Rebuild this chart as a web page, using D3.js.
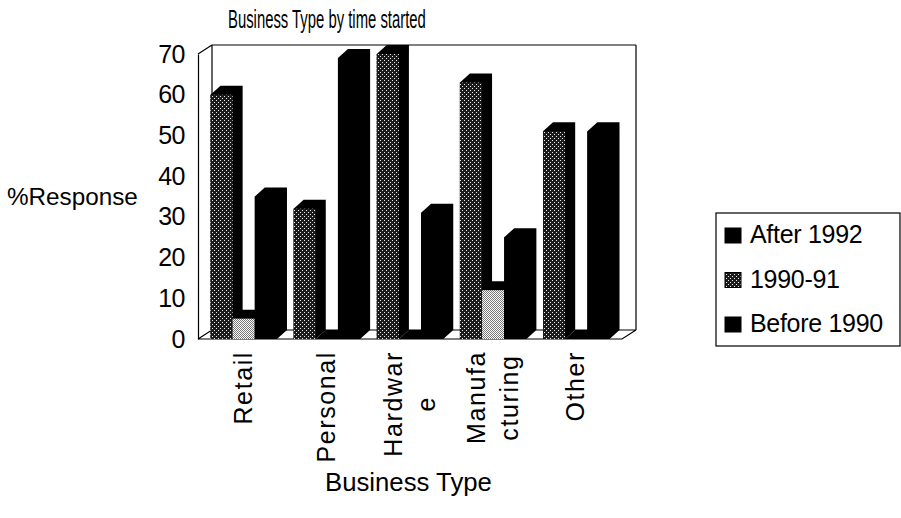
<!DOCTYPE html>
<html>
<head>
<meta charset="utf-8">
<script src="https://cdn.jsdelivr.net/npm/d3@7"></script>
<style>
  html, body { margin: 0; padding: 0; background: #fff; }
  svg { display: block; font-family: "Liberation Sans", Arial, Helvetica, sans-serif; }
</style>
</head>
<body>
<svg id="chart" width="901" height="518"></svg>
<script>
// ---- data ----
const categories = ["Retail", "Personal", "Hardware", "Manufacturing", "Other"];
const categoryLabels = [["Retail"], ["Personal"], ["Hardwar", "e"], ["Manufa", "cturing"], ["Other"]];
const seriesNames = ["After 1992", "1990-91", "Before 1990"];
const after1992 = [60, 32, 70, 63, 51];
const y1990_91 = [5, 0, 0, 12, 0];
const before1990 = [35, 69, 31, 25, 51];
const yTicks = [0, 10, 20, 30, 40, 50, 60, 70];
const titleText = "Business Type by time started";
const xTitle = "Business Type";
const yTitle = "%Response";

const seriesValues = [after1992, y1990_91, before1990];

// ---- setup ----
const svg = d3.select("#chart");
const defs = svg.append("defs");

// dark speckled pattern (After 1992)
const pDark = defs.append("pattern").attr("id", "pDark").attr("patternUnits", "userSpaceOnUse")
  .attr("width", 4).attr("height", 4);
pDark.append("rect").attr("width", 4).attr("height", 4).attr("fill", "#1c1c1c");
pDark.append("rect").attr("x", 0).attr("y", 0).attr("width", 1).attr("height", 1).attr("fill", "#e8e8e8");
pDark.append("rect").attr("x", 2).attr("y", 2).attr("width", 1).attr("height", 1).attr("fill", "#e8e8e8");

// light checker pattern (1990-91)
const pLight = defs.append("pattern").attr("id", "pLight").attr("patternUnits", "userSpaceOnUse")
  .attr("width", 2).attr("height", 2);
pLight.append("rect").attr("width", 2).attr("height", 2).attr("fill", "#ffffff");
pLight.append("rect").attr("x", 0).attr("y", 0).attr("width", 1).attr("height", 1).attr("fill", "#777");
pLight.append("rect").attr("x", 1).attr("y", 1).attr("width", 1).attr("height", 1).attr("fill", "#777");

const fills = ["url(#pDark)", "url(#pLight)", "#000"];

const floorY = 339, topY = 54;
const y = d3.scaleLinear().domain([0, 70]).range([floorY, topY]);
const x0 = d3.scaleBand().domain(categories).range([198, 622]).paddingInner(0.2).paddingOuter(0.15);
const x1 = d3.scaleBand().domain(seriesNames).range([0, x0.bandwidth()]).padding(0);

const bdx = 10, bdy = 9;   // bar depth
const fdx = 14, fdy = 9;   // frame depth

// ---- 3D frame ----
const frame = svg.append("g").attr("stroke", "#000").attr("stroke-width", 1.2).attr("fill", "none");
const left = 198, right = 622;
frame.append("path").attr("d",
  `M${left + fdx},${y(70) - fdy} L${right + fdx},${y(70) - fdy}` +
  ` M${left + fdx},${y(70) - fdy} L${left + fdx},${floorY - fdy}` +
  ` M${right + fdx},${y(70) - fdy} L${right + fdx},${floorY - fdy}` +
  ` M${left},${y(70)} L${left + fdx},${y(70) - fdy}` +
  ` M${left + fdx},${floorY - fdy} L${right + fdx},${floorY - fdy}` +
  ` M${left},${floorY} L${left + fdx},${floorY - fdy}` +
  ` M${left},${floorY} L${right},${floorY} L${right + fdx},${floorY - fdy}`);

// ---- bars ----
const barData = [];
categories.forEach((c, ci) => {
  seriesNames.forEach((s, si) => {
    barData.push({ cat: c, ser: s, si: si, v: seriesValues[si][ci] });
  });
});

const bars = svg.append("g").selectAll("g").data(barData).join("g");
bars.each(function(d) {
  const g = d3.select(this);
  const bx = x0(d.cat) + x1(d.ser);
  const w = x1.bandwidth();
  const yt = y(d.v);
  g.append("path")
    .attr("d", `M${bx},${yt} L${bx + bdx},${yt - bdy} L${bx + w + bdx},${yt - bdy} L${bx + w + bdx},${floorY - bdy} L${bx + w},${floorY} L${bx},${floorY} Z`)
    .attr("fill", "#000");
  g.append("rect")
    .attr("x", bx).attr("y", yt).attr("width", w).attr("height", Math.max(0, floorY - yt))
    .attr("fill", fills[d.si]);
});

// ---- y axis ----
const yAxis = d3.axisLeft(y).tickValues(yTicks).tickSize(0).tickPadding(13).tickFormat(d3.format("d"));
const yg = svg.append("g").attr("transform", `translate(${left},0)`).call(yAxis);
yg.select(".domain").attr("stroke", "#000").attr("stroke-width", 1.2);
yg.selectAll("text").attr("font-size", 25).attr("font-family", "'Liberation Sans', Arial, sans-serif")
  .attr("fill", "#000").attr("letter-spacing", -0.5);

// ---- x category labels ----
const labTop = 351, lineH = 33, capHalf = 8;
categories.forEach((c, ci) => {
  const cx = x0(c) + x0.bandwidth() / 2;
  const lines = categoryLabels[ci];
  const g = svg.append("g").attr("transform", `translate(${cx},${labTop}) rotate(-90)`);
  const texts = lines.map((ln, li) =>
    g.append("text").text(ln)
      .attr("font-size", 25).attr("letter-spacing", 1.6)
      .attr("text-anchor", "middle")
      .attr("y", (li - (lines.length - 1) / 2) * lineH + capHalf)
      .attr("fill", "#000"));
  const maxLen = d3.max(texts, t => t.node().getComputedTextLength());
  texts.forEach(t => t.attr("x", -maxLen / 2));
});

// ---- titles (horizontally condensed like the reference) ----
function condensedText(str, x, yb, size, targetW) {
  const g = svg.append("g");
  const t = g.append("text").text(str).attr("font-size", size).attr("fill", "#000");
  const nat = t.node().getComputedTextLength();
  g.attr("transform", `translate(${x},${yb}) scale(${targetW / nat},1)`);
  return t;
}
condensedText(titleText, 228, 28, 26, 198);
condensedText(xTitle, 325, 491, 25, 167);
condensedText(yTitle, 7, 205, 24, 131);

// ---- legend ----
const legend = svg.append("g");
legend.append("rect").attr("x", 716).attr("y", 213).attr("width", 184).attr("height", 133)
  .attr("fill", "#fff").attr("stroke", "#000").attr("stroke-width", 1.2);
const legFills = ["#000", "url(#pDark)", "#000"];
const legY = d3.scalePoint().domain(seriesNames).range([243, 332]);
seriesNames.forEach((s, i) => {
  const by = legY(s);
  legend.append("rect").attr("x", 725).attr("y", by - 15).attr("width", 16).attr("height", 15)
    .attr("fill", legFills[i]).attr("stroke", "#000").attr("stroke-width", 1);
  legend.append("text").text(s).attr("x", 750).attr("y", by).attr("font-size", 25).attr("fill", "#000")
    .attr("letter-spacing", -0.3);
});
</script>
</body>
</html>
